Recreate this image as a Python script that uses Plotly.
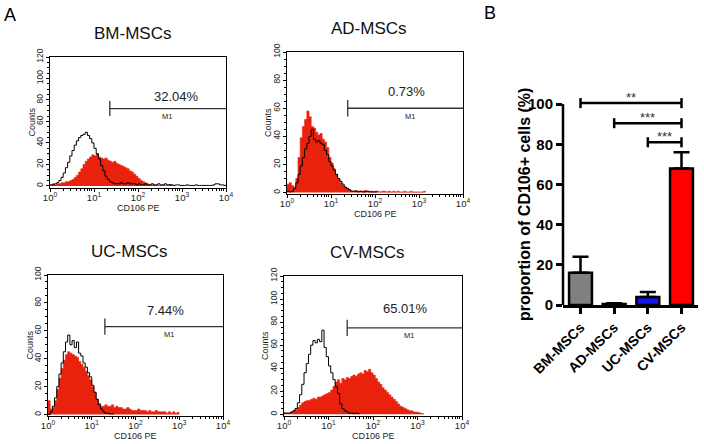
import numpy as np
import plotly.graph_objects as go

W, H = 704, 444


def px(x):
    return x / W


def py(y):
    return 1 - y / H


# log10 channel of each histogram bin (20 bins per decade)
CHANNEL_LOG = np.round(np.arange(0, 4.001, 0.05), 2)

# CD106 PE stained (red fill) and isotype control (black outline) counts
BM_STAIN = [1, 2, 1, 2, 2, 3, 3, 4, 4, 5,
            6, 8, 10, 13, 16, 20, 23, 25, 27, 29,
            28, 30, 27, 26, 25, 26, 24, 23, 22, 23,
            21, 20, 19, 18, 17, 16, 14, 13, 11, 9,
            7, 5, 4, 3, 2, 1, 1, 1, 1, 0.5,
            0.5, 1, 0.5, 0.5, 1.5, 0.5, 0]
BM_ISO = [1, 1, 2, 3, 5, 8, 12, 17, 22, 28,
          33, 38, 42, 45, 47, 48, 50, 47, 44, 40,
          35, 30, 25, 19, 14, 9, 6, 4, 3, 2,
          2, 2, 3, 2, 2, 3, 2, 2, 2, 1,
          2, 1, 1, 2, 1, 1, 2, 1, 1, 2,
          1, 1, 2, 1, 1, 1, 0.5, 1, 1, 0.5,
          0.5, 0.5, 1, 0.5, 0.5, 0.5, 1, 0.5, 0.5, 0.5,
          0.5, 0.5, 0.5, 0.5, 1, 2, 2, 1, 1, 0.5, 0.5]

AD_STAIN = [6, 7, 5, 4, 10, 25, 39, 47, 52, 58,
            54, 47, 46, 43, 41, 42, 38, 36, 32, 25,
            21, 17, 13, 10, 7, 5, 4, 3, 2, 1,
            1, 1.5, 1, 1, 1, 1.5, 1, 1, 1, 0.5,
            1, 1, 0.5, 1, 1, 0.5, 1, 0.5, 1, 0.5,
            1, 0.5, 0.5, 1, 0.5, 0.5, 1, 0.5, 0.5, 0.5,
            0.5, 0.5, 1, 0.5]
AD_ISO = [1, 0.5, 1, 3, 7, 13, 19, 25, 31, 35,
          40, 45, 38, 36, 37, 35, 34, 30, 27, 22,
          19, 16, 13, 10, 8, 6, 4, 3, 2, 1,
          1, 1, 0.5, 1, 0.5, 0.5, 1, 0.5, 0.5, 0.5,
          0.5, 0.5]

UC_STAIN = [10, 4, 5, 10, 18, 26, 33, 39, 43, 45,
            44, 43, 42, 41, 38, 36, 34, 31, 28, 25,
            20, 16, 11, 8, 6, 6, 7, 6, 6, 7,
            5, 6, 5, 5, 4, 4, 5, 4, 3, 3,
            3, 4, 3, 3, 3, 2, 3, 2, 2, 3,
            2, 2, 2, 2, 1, 2, 1, 2, 1, 1.5,
            1]
UC_ISO = [0, 2, 6, 12, 20, 29, 37, 45, 52, 57,
          50, 53, 48, 52, 44, 42, 37, 34, 30, 27,
          21, 16, 11, 7, 4, 2, 1, 1, 0.5, 0.5,
          0.5]

CV_STAIN = [1, 1, 1, 2, 3, 4, 6, 8, 10, 11,
            12, 12, 13, 14, 13, 15, 15, 16, 17, 18,
            19, 21, 24, 28, 30, 27, 31, 30, 32, 31,
            33, 34, 33, 35, 36, 35, 38, 37, 39, 36,
            34, 31, 28, 26, 23, 21, 19, 17, 15, 13,
            11, 9, 7, 6, 5, 4, 3, 3, 2, 2,
            1.5, 1, 0.5, 0.5]
CV_ISO = [1, 1, 1, 2, 3, 5, 10, 17, 26, 36,
          44, 52, 60, 64, 62, 65, 63, 73, 58, 50,
          42, 36, 30, 24, 18, 9, 5, 3, 2, 1,
          1, 0.5, 1, 0.5, 0.5]

SAMPLES = ["BM-MSCs", "AD-MSCs", "UC-MSCs", "CV-MSCs"]
STAIN = [BM_STAIN, AD_STAIN, UC_STAIN, CV_STAIN]
ISO = [BM_ISO, AD_ISO, UC_ISO, CV_ISO]
COUNT_MAX = [120, 100, 100, 120]
M1_PCT = ["32.04%", "0.73%", "7.44%", "65.01%"]
M1_START = [1.36, 1.38, 1.30, 1.42]   # log10 channel
M1_LEVEL = [72, 60, 63, 75]           # counts

# panel B
BAR_MEAN = [16, 0.5, 4, 68]
BAR_SEM = [8, 0.4, 2.5, 8]
SIG_LEFT = [0, 1, 2]
SIG_RIGHT = [3, 3, 3]
SIG_HEIGHT = [100.5, 90.5, 81]
SIG_LABEL = ["**", "***", "***"]

RED = "#e8220c"
FONT = "Liberation Sans, Arial, sans-serif"
INK = "#222222"

# pixel boxes of the four histogram frames: left, right, top, bottom
boxes = [(50, 226, 57, 188), (287, 463, 52, 194), (48, 223, 275, 416), (284, 462, 276, 416)]
ylow = [-1.9, -1.0, -1.0, -1.5]
pct_x = [2.88, 2.72, 2.69, 2.72]
pct_dy = [12, 17, 16, 19]
m1_x = [2.66, 2.80, 2.77, 2.81]

fig = go.Figure()
layout = {}
annotations = []


def note(text, x, y, size, xref="paper", yref="paper", **kw):
    font = dict(family=FONT, size=size, color=kw.pop("color", INK))
    if "weight" in kw:
        font["weight"] = kw.pop("weight")
    annotations.append(dict(text=text, x=x, y=y, xref=xref, yref=yref, showarrow=False,
                            xanchor="center", yanchor="middle", font=font, **kw))


minor_x = [m * 10 ** d for d in range(4) for m in range(2, 10)]

for i in range(4):
    n = i + 1
    xa, ya = f"x{n}", f"y{n}"
    l, r, t, b = boxes[i]
    s = np.array(STAIN[i])
    c = np.array(ISO[i])
    fig.add_trace(go.Scatter(
        x=10 ** CHANNEL_LOG[:len(s)], y=s, xaxis=xa, yaxis=ya, mode="lines",
        line=dict(color=RED, width=0.6, shape="hv"), fill="tozeroy", fillcolor=RED,
        showlegend=False, hoverinfo="skip"))
    fig.add_trace(go.Scatter(
        x=10 ** CHANNEL_LOG[:len(c)], y=c, xaxis=xa, yaxis=ya, mode="lines",
        line=dict(color="black", width=1, shape="hv"), showlegend=False, hoverinfo="skip"))
    # M1 gate marker
    g0 = 10 ** M1_START[i]
    lv = M1_LEVEL[i]
    cap = 7 * COUNT_MAX[i] / 120
    fig.add_trace(go.Scatter(
        x=[g0, g0, None, g0, 10 ** 4], y=[lv - cap, lv + cap, None, lv, lv],
        xaxis=xa, yaxis=ya, mode="lines", line=dict(color="#333333", width=1.3),
        showlegend=False, hoverinfo="skip"))

    key = "" if n == 1 else str(n)
    layout[f"xaxis{key}"] = dict(
        domain=[px(l), px(r)], anchor=ya, type="log", range=[0, 4], automargin=False,
        tickvals=[1, 10, 100, 1000, 10000],
        ticktext=[f"10<sup>{k}</sup>" for k in range(5)],
        ticks="outside", ticklen=3, tickcolor="black", ticklabelstandoff=-2,
        minor=dict(tickvals=minor_x, ticks="outside", ticklen=2, tickcolor="black"),
        showline=True, linecolor="black", linewidth=1, mirror=True,
        showgrid=False, zeroline=False,
        tickfont=dict(family=FONT, size=9.5, color=INK))
    layout[f"yaxis{key}"] = dict(
        domain=[py(b), py(t)], anchor=xa, range=[ylow[i], COUNT_MAX[i]], automargin=False,
        tickvals=list(range(0, COUNT_MAX[i] + 1, 20)), tickangle=-90,
        ticks="outside", ticklen=3, tickcolor="black",
        minor=dict(dtick=5, ticks="outside", ticklen=2, tickcolor="black"),
        showline=True, linecolor="black", linewidth=1, mirror=True,
        showgrid=False, zeroline=False,
        tickfont=dict(family=FONT, size=8.5, color=INK))

    note(SAMPLES[i], px((l + r) / 2 - 6), py(t - 24), 17, color="#111111")
    note("Counts", px(l - 19), py((t + b) / 2), 9, textangle=-90)
    note("CD106 PE", px((l + r) / 2), py(b + 20), 9)
    note(M1_PCT[i], pct_x[i], lv, 13, xref=xa, yref=ya, yshift=pct_dy[i])
    note("M1", m1_x[i], lv, 7.5, xref=xa, yref=ya, yshift=-8)

# panel B bar chart
fig.add_trace(go.Bar(
    x=[0, 1, 2, 3], y=BAR_MEAN, width=0.68, xaxis="x5", yaxis="y5",
    marker=dict(color=["#808080", "#bdbdbd", "#1414f0", "#ff0000"],
                line=dict(color="black", width=2.5)),
    error_y=dict(type="data", symmetric=False, array=BAR_SEM, arrayminus=[0, 0, 0, 0],
                 thickness=2.5, width=8, color="black"),
    showlegend=False, hoverinfo="skip"))

for lft, rgt, h, lab in zip(SIG_LEFT, SIG_RIGHT, SIG_HEIGHT, SIG_LABEL):
    fig.add_trace(go.Scatter(
        x=[lft, lft, None, lft, rgt, None, rgt, rgt],
        y=[h - 2.5, h + 2.5, None, h, h, None, h - 2.5, h + 2.5],
        xaxis="x5", yaxis="y5", mode="lines", line=dict(color="black", width=2.5),
        showlegend=False, hoverinfo="skip"))
    note(lab, (lft + rgt) / 2, h, 13, xref="x5", yref="y5", yshift=6, color="#333333")

layout["xaxis5"] = dict(
    domain=[px(563), px(698)], anchor="y5", range=[-0.52, 3.49], automargin=False,
    tickvals=[0, 1, 2, 3], ticktext=SAMPLES, tickangle=-45,
    ticks="outside", ticklen=6, tickwidth=2.5, tickcolor="black",
    showline=True, linecolor="black", linewidth=2.5, showgrid=False, zeroline=False,
    tickfont=dict(family=FONT, size=14, color="black", weight="bold"))
layout["yaxis5"] = dict(
    domain=[py(305), py(80)], anchor="x5", range=[0, 112], automargin=False,
    tickvals=[0, 20, 40, 60, 80, 100],
    ticks="outside", ticklen=6, tickwidth=2.5, tickcolor="black",
    showline=False, showgrid=False, zeroline=False,
    tickfont=dict(family=FONT, size=15, color="black", weight="bold"))

shapes = [dict(type="line", xref="x5 domain", yref="y5", x0=0, x1=0, y0=0, y1=100,
               line=dict(color="black", width=2.5))]

note("proportion of CD106+ cells (%)", px(524), py(205), 16, textangle=-90,
     color="black", weight="bold")
note("A", px(10), py(15), 18, color="black")
note("B", px(490), py(13), 18, color="black")

fig.update_layout(
    width=W, height=H, autosize=False,
    margin=dict(l=0, r=0, t=0, b=0),
    paper_bgcolor="white", plot_bgcolor="white",
    annotations=annotations, shapes=shapes, **layout)

# drop the page's default body margin so the figure fills the window exactly
fig.write_html("out.html", config={"displayModeBar": False},
               post_script="document.body.style.margin='0px';")
